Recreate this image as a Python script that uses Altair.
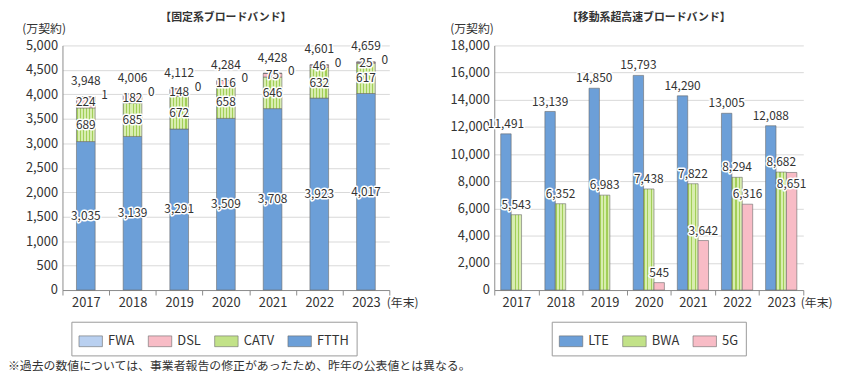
import altair as alt
import pandas as pd

# ---------------- data ----------------
years = ["2017", "2018", "2019", "2020", "2021", "2022", "2023"]

# fixed broadband (万契約)
ftth = [3035, 3139, 3291, 3509, 3708, 3923, 4017]
catv = [689, 685, 672, 658, 646, 632, 617]
dsl = [224, 182, 148, 116, 75, 46, 25]
fwa = [1, 0, 0, 0, 0, 0, 0]
fixed_total = [3948, 4006, 4112, 4284, 4428, 4601, 4659]

# mobile ultra-high-speed broadband (万契約)
lte = [11491, 13139, 14850, 15793, 14290, 13005, 12088]
bwa = [5543, 6352, 6983, 7438, 7822, 8294, 8682]
g5 = [None, None, None, 545, 3642, 6316, 8651]

fixed_series = ["FWA", "DSL", "CATV", "FTTH"]
mobile_series = ["LTE", "BWA", "5G"]

left_title = "【固定系ブロードバンド】"
right_title = "【移動系超高速ブロードバンド】"
unit_label = "(万契約)"
year_label = "(年末)"
footnote = "※過去の数値については、事業者報告の修正があったため、昨年の公表値とは異なる。"

# ---------------- tables ----------------
stack_order = {"FTTH": 1, "CATV": 2, "DSL": 3, "FWA": 4}
rows = []
for i, y in enumerate(years):
    for name, vals in (("FTTH", ftth), ("CATV", catv), ("DSL", dsl), ("FWA", fwa)):
        rows.append({"year": y, "series": name, "value": vals[i], "order": stack_order[name]})
df_fixed = pd.DataFrame(rows)
df_total = pd.DataFrame({"year": years, "total": fixed_total, "fwa": fwa})

mrows = []
for i, y in enumerate(years):
    for name, vals in (("LTE", lte), ("BWA", bwa), ("5G", g5)):
        if vals[i] is not None:
            mrows.append({"year": y, "series": name, "value": vals[i]})
df_mobile = pd.DataFrame(mrows)

# ---------------- style ----------------
FONT = "Noto Sans CJK JP"
BLUE = "#6c9fd8"
GREEN_L = "#d8edb0"
GREEN_D = "#a2cf58"
GREEN_AVG = "#c2e288"
PINK = "#f8bcc6"
FWA_D = "#93b6e6"
FWA_L = "#eef4fc"
FWA_AVG = "#b9d0f0"
TXT = "#333333"
AXIS = "#8c8c8c"
GRID = "#d9d9d9"
OUTLINE = "#6b6b6b"


def stripes(c_dark, c_light, n, frac, x2=1, y2=0):
    stops = []
    for i in range(n):
        a = i / n
        b = (i + frac) / n
        c = (i + 1) / n
        stops += [
            {"offset": a, "color": c_dark},
            {"offset": b, "color": c_dark},
            {"offset": b, "color": c_light},
            {"offset": c, "color": c_light},
        ]
    return {"gradient": "linear", "x1": 0, "y1": 0, "x2": x2, "y2": y2, "stops": stops}


G_CATV = stripes(GREEN_D, GREEN_L, 6, 0.35)
G_BWA = stripes(GREEN_D, GREEN_L, 3, 0.35)
G_FWA = stripes(FWA_D, FWA_L, 6, 0.5, 1, 1)

W1, W2, H = 330, 312, 247
RECT = "M-1,-0.46H1V0.46H-1Z"


def halo_text(base, dx=0, dy=0, align="center"):
    kw = dict(dx=dx, dy=dy, align=align, baseline="middle", font=FONT, fontSize=12)
    halo = base.mark_text(color="white", stroke="white", strokeWidth=3, strokeJoin="round", **kw)
    txt = base.mark_text(color=TXT, **kw)
    return halo + txt


def legend(x, y, cols):
    return alt.Legend(
        title=None, orient="none", legendX=x, legendY=y, direction="horizontal",
        columns=cols, strokeColor="#9a9a9a", padding=7, symbolType=RECT,
        symbolSize=560, symbolStrokeColor=OUTLINE, symbolStrokeWidth=0.6,
        symbolOpacity=1, labelFont=FONT, labelFontSize=13, labelColor=TXT,
        labelOffset=5, columnPadding=12,
    )


def x_axis(w):
    return alt.Axis(
        title=year_label, titleX=w - 3, titleY=13, titleAlign="left",
        titleBaseline="middle", titleFontSize=12, titleFontWeight="normal",
        titleFont=FONT, titleColor=TXT, labelAngle=0, labelFontSize=13,
        tickBand="extent", tickSize=5, labelPadding=2, grid=False,
    )


def y_axis(top, step, tx):
    return alt.Axis(
        values=list(range(0, top + 1, step)), format=",d", title=unit_label,
        titleAngle=0, titleAlign="left", titleBaseline="middle", titleX=tx,
        titleY=-17, titleFontSize=12, titleFontWeight="normal", titleFont=FONT,
        titleColor=TXT, ticks=False, labelPadding=5, labelFontSize=13,
    )


# ---------- left chart ----------
xs = alt.Scale(paddingInner=0, paddingOuter=0)
x_l = alt.X("year:N", sort=years, scale=xs, axis=x_axis(W1))
y_l_scale = alt.Scale(domain=[0, 5000], nice=False)
y_l_axis = y_axis(5000, 500, -41)

color_l = alt.Color(
    "series:N",
    scale=alt.Scale(domain=fixed_series, range=[FWA_AVG, PINK, GREEN_AVG, BLUE]),
    legend=legend(9, 279, 4),
    condition=[
        {"test": "datum.series === 'CATV'", "value": G_CATV},
        {"test": "datum.series === 'FWA'", "value": G_FWA},
    ],
)
bars_l = alt.Chart(df_fixed).mark_bar(
    width=alt.RelativeBandSize(0.4), stroke=OUTLINE, strokeWidth=0.6
).encode(
    x=x_l,
    y=alt.Y("value:Q", stack="zero", scale=y_l_scale, axis=y_l_axis),
    color=color_l,
    order=alt.Order("order:Q"),
)
seg_base = (
    alt.Chart(df_fixed)
    .transform_stack(stack="value", groupby=["year"], as_=["v0", "v1"],
                     sort=[alt.SortField("order")])
    .transform_calculate(mid="(datum.v0 + datum.v1) / 2")
    .transform_filter("datum.series !== 'FWA'")
    .encode(x=x_l, y=alt.Y("mid:Q", scale=y_l_scale, axis=y_l_axis),
            text=alt.Text("value:Q", format=","))
)
tot_base = alt.Chart(df_total).encode(
    x=x_l, y=alt.Y("total:Q", scale=y_l_scale, axis=y_l_axis),
    text=alt.Text("total:Q", format=","))
fwa_base = alt.Chart(df_total).encode(
    x=x_l, y=alt.Y("total:Q", scale=y_l_scale, axis=y_l_axis),
    text=alt.Text("fwa:Q", format=","))
left = alt.layer(
    bars_l,
    halo_text(seg_base),
    halo_text(tot_base, dy=-16),
    halo_text(fwa_base, dx=19, dy=-2),
).properties(
    width=W1, height=H,
    title=alt.TitleParams(left_title, fontSize=11, fontWeight="bold", font=FONT,
                          color=TXT, anchor="middle", offset=0),
)

# ---------- right chart ----------
x_r = alt.X("year:N", sort=years, scale=xs, axis=x_axis(W2))
xo = alt.XOffset("series:N", sort=mobile_series,
                 scale=alt.Scale(domain=mobile_series, paddingInner=0, paddingOuter=0.62))
y_r_scale = alt.Scale(domain=[0, 18000], nice=False)
y_r_axis = y_axis(18000, 2000, -45)
color_r = alt.Color(
    "series:N",
    scale=alt.Scale(domain=mobile_series, range=[BLUE, GREEN_AVG, PINK]),
    legend=legend(58, 279, 3),
    condition=[{"test": "datum.series === 'BWA'", "value": G_BWA}],
)
bars_r = alt.Chart(df_mobile).mark_bar(stroke=OUTLINE, strokeWidth=0.6).encode(
    x=x_r, xOffset=xo,
    y=alt.Y("value:Q", scale=y_r_scale, axis=y_r_axis),
    color=color_r,
)
lab_base = alt.Chart(df_mobile).encode(
    x=x_r, xOffset=xo,
    y=alt.Y("value:Q", scale=y_r_scale, axis=y_r_axis),
    text=alt.Text("value:Q", format=","))
special = "datum.year === '2023' && datum.series === '5G'"
right = alt.layer(
    bars_r,
    halo_text(lab_base.transform_filter("!(" + special + ")"), dy=-10),
    halo_text(lab_base.transform_filter(special), dy=12),
).properties(
    width=W2, height=H,
    title=alt.TitleParams(right_title, fontSize=11, fontWeight="bold", font=FONT,
                          color=TXT, anchor="middle", offset=0),
)

chart = alt.hconcat(left, right, spacing=31).resolve_scale(
    color="independent", x="independent", y="independent", xOffset="independent"
).properties(
    padding={"left": 0, "top": 2, "right": 0, "bottom": 0},
    title=alt.TitleParams(footnote, orient="bottom", anchor="start", fontSize=12,
                          fontWeight="normal", font=FONT, color=TXT, dx=-14, offset=5),
).configure_view(stroke=None).configure_axis(
    labelFont=FONT, labelColor=TXT, domainColor=AXIS, tickColor=AXIS,
    gridColor=GRID, gridWidth=1,
)

chart.save("out.html", embed_options={"renderer": "svg", "actions": False})
